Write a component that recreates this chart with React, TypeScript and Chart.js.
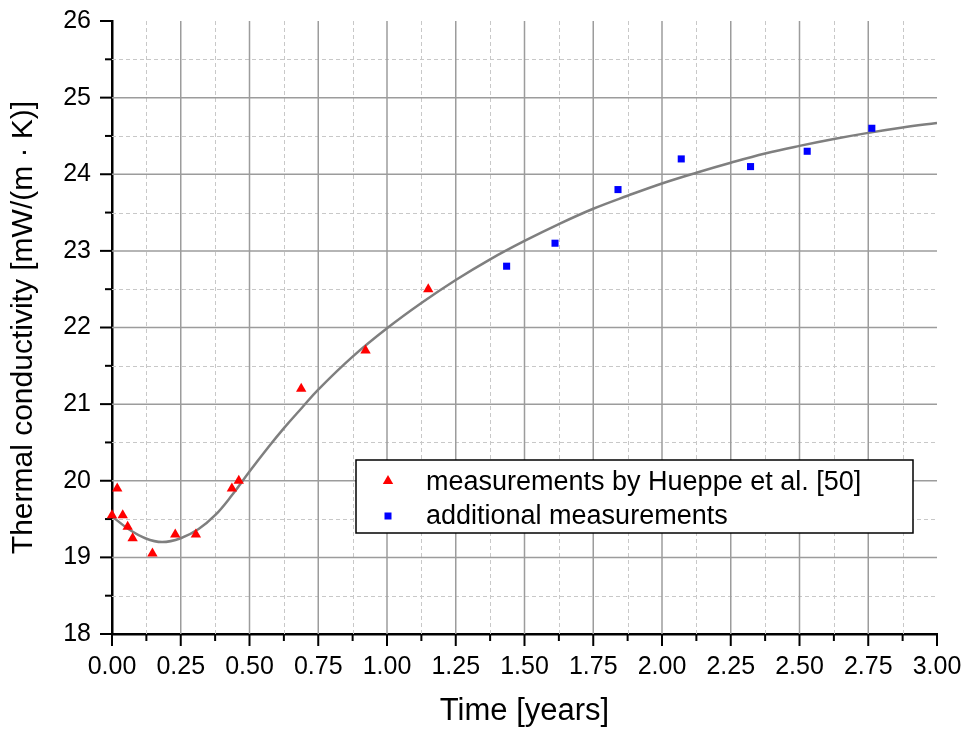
import React, { useEffect, useRef } from 'react';
import { Chart, registerables } from 'chart.js';

Chart.register(...registerables);

// ---- data ----
const hueppeTime = [0.0, 0.019, 0.039, 0.057, 0.075, 0.147, 0.23, 0.305, 0.436, 0.461, 0.688, 0.922, 1.15];
const hueppeK = [19.55, 19.9, 19.55, 19.4, 19.25, 19.05, 19.3, 19.3, 19.9, 20.0, 21.2, 21.7, 22.5];

const addTime = [1.435, 1.611, 1.84, 2.07, 2.322, 2.528, 2.763];
const addK = [22.8, 23.1, 23.8, 24.2, 24.1, 24.3, 24.6];

const fitTime = [0, 0.06, 0.121, 0.182, 0.25, 0.315, 0.375, 0.436, 0.5, 0.569, 0.626, 0.69, 0.75, 0.875, 1.0, 1.125, 1.25, 1.375, 1.5, 1.625, 1.75, 1.875, 2.0, 2.125, 2.25, 2.375, 2.5, 2.625, 2.75, 2.875, 3.0];
const fitK = [19.535, 19.37, 19.25, 19.2, 19.25, 19.37, 19.55, 19.81, 20.12, 20.44, 20.69, 20.95, 21.19, 21.62, 21.99, 22.32, 22.62, 22.89, 23.13, 23.35, 23.55, 23.72, 23.88, 24.02, 24.15, 24.27, 24.37, 24.46, 24.54, 24.61, 24.67];

const xMajorTicks = [0, 0.25, 0.5, 0.75, 1.0, 1.25, 1.5, 1.75, 2.0, 2.25, 2.5, 2.75, 3.0];
const xMinorTicks = [0.125, 0.375, 0.625, 0.875, 1.125, 1.375, 1.625, 1.875, 2.125, 2.375, 2.625, 2.875];
const yMajorTicks = [18, 19, 20, 21, 22, 23, 24, 25, 26];
const yMinorTicks = [18.5, 19.5, 20.5, 21.5, 22.5, 23.5, 24.5, 25.5];

const legendLabels = ['measurements by Hueppe et al. [50]', 'additional measurements'];
const xTitle = 'Time [years]';
const yTitle = 'Thermal conductivity [mW/(m · K)]';

const FONT = '"Liberation Sans", Arial, Helvetica, sans-serif';

const zeroPad = (scale: any) => {
  scale.paddingLeft = 0;
  scale.paddingRight = 0;
  scale.paddingTop = 0;
  scale.paddingBottom = 0;
};

const gridPlugin = {
  id: 'originGrid',
  beforeDatasetsDraw(chart: any) {
    const { ctx, chartArea: a, scales } = chart;
    const x = scales.x;
    const y = scales.y;
    const line = (x1: number, y1: number, x2: number, y2: number) => {
      ctx.beginPath();
      ctx.moveTo(x1, y1);
      ctx.lineTo(x2, y2);
      ctx.stroke();
    };
    ctx.save();
    // minor dashed grid
    ctx.lineWidth = 1;
    ctx.strokeStyle = '#c8c8c8';
    ctx.setLineDash([4, 3]);
    xMinorTicks.forEach((v) => {
      const p = Math.round(x.getPixelForValue(v)) + 0.5;
      line(p, a.top, p, a.bottom);
    });
    yMinorTicks.forEach((v) => {
      const p = Math.round(y.getPixelForValue(v)) + 0.5;
      line(a.left, p, a.right, p);
    });
    // major solid grid
    ctx.setLineDash([]);
    ctx.lineWidth = 1.5;
    ctx.strokeStyle = '#9c9c9c';
    xMajorTicks.slice(1, -1).forEach((v) => {
      const p = x.getPixelForValue(v);
      line(p, a.top, p, a.bottom);
    });
    yMajorTicks.slice(1, -1).forEach((v) => {
      const p = y.getPixelForValue(v);
      line(a.left, p, a.right, p);
    });
    // outward ticks
    ctx.strokeStyle = '#000';
    ctx.lineWidth = 2;
    xMajorTicks.forEach((v) => {
      const p = x.getPixelForValue(v);
      line(p, a.bottom, p, a.bottom + 12);
    });
    xMinorTicks.forEach((v) => {
      const p = x.getPixelForValue(v);
      line(p, a.bottom, p, a.bottom + 7);
    });
    yMajorTicks.forEach((v) => {
      const p = y.getPixelForValue(v);
      line(a.left - 12, p, a.left, p);
    });
    yMinorTicks.forEach((v) => {
      const p = y.getPixelForValue(v);
      line(a.left - 7, p, a.left, p);
    });
    ctx.restore();
  },
  afterDraw(chart: any) {
    const { ctx } = chart;
    ctx.save();
    const bx = 356, by = 460, bw = 557, bh = 73;
    ctx.fillStyle = '#ffffff';
    ctx.fillRect(bx, by, bw, bh);
    ctx.strokeStyle = '#000';
    ctx.lineWidth = 1.5;
    ctx.strokeRect(bx, by, bw, bh);
    // triangle marker
    const r = 6;
    const tx = 388, ty = 481;
    ctx.fillStyle = '#ff0000';
    ctx.beginPath();
    for (let k = 0; k < 3; k++) {
      const ang = (k * 2 * Math.PI) / 3;
      const px = tx + Math.sin(ang) * r;
      const py = ty - Math.cos(ang) * r;
      if (k === 0) ctx.moveTo(px, py);
      else ctx.lineTo(px, py);
    }
    ctx.closePath();
    ctx.fill();
    // square marker
    ctx.fillStyle = '#0000ff';
    ctx.fillRect(384.5, 512.5, 7, 7);
    // texts
    ctx.fillStyle = '#000';
    ctx.font = `27px ${FONT}`;
    ctx.textBaseline = 'middle';
    ctx.textAlign = 'left';
    ctx.fillText(legendLabels[0], 426, 483);
    ctx.fillText(legendLabels[1], 426, 517);
    ctx.restore();
  },
};

export default function App() {
  const canvasRef = useRef<HTMLCanvasElement | null>(null);

  useEffect(() => {
    if (!canvasRef.current) return;
    const chart = new Chart(canvasRef.current, {
      type: 'scatter',
      data: {
        datasets: [
          {
            type: 'line',
            label: 'fit',
            data: fitTime.map((t, i) => ({ x: t, y: fitK[i] })),
            borderColor: '#7f7f7f',
            borderWidth: 2.5,
            pointRadius: 0,
            fill: false,
            tension: 0.4,
            order: 2,
          } as any,
          {
            label: legendLabels[0],
            data: hueppeTime.map((t, i) => ({ x: t, y: hueppeK[i] })),
            pointStyle: 'triangle',
            pointRadius: 6,
            backgroundColor: '#ff0000',
            borderColor: '#ff0000',
            borderWidth: 0,
            clip: false,
            order: 1,
          } as any,
          {
            label: legendLabels[1],
            data: addTime.map((t, i) => ({ x: t, y: addK[i] })),
            pointStyle: 'rect',
            pointRadius: 5,
            backgroundColor: '#0000ff',
            borderColor: '#0000ff',
            borderWidth: 0,
            clip: false,
            order: 1,
          } as any,
        ],
      },
      options: {
        animation: false,
        responsive: false,
        devicePixelRatio: 1,
        layout: { padding: { left: 0, right: 28, top: 21, bottom: 0 } },
        plugins: {
          legend: { display: false },
          tooltip: { enabled: false },
        },
        scales: {
          x: {
            type: 'linear',
            min: 0,
            max: 3,
            afterBuildTicks: (scale: any) => {
              scale.ticks = xMajorTicks.map((v) => ({ value: v }));
            },
            afterFit: (scale: any) => {
              scale.height = 97;
              zeroPad(scale);
            },
            grid: { display: false, drawTicks: false },
            border: { display: true, color: '#000', width: 2.5 },
            ticks: {
              color: '#000',
              padding: 18,
              maxRotation: 0,
              autoSkip: false,
              font: { family: FONT, size: 25 },
              callback: (v: any) => Number(v).toFixed(2),
            },
            title: {
              display: true,
              text: xTitle,
              color: '#000',
              font: { family: FONT, size: 31, lineHeight: 1.2 },
              padding: { top: 0, bottom: 1 },
            },
          },
          y: {
            type: 'linear',
            min: 18,
            max: 26,
            afterBuildTicks: (scale: any) => {
              scale.ticks = yMajorTicks.map((v) => ({ value: v }));
            },
            afterFit: (scale: any) => {
              scale.width = 112;
              zeroPad(scale);
            },
            grid: { display: false, drawTicks: false },
            border: { display: true, color: '#000', width: 2.5 },
            ticks: {
              color: '#000',
              padding: 21,
              autoSkip: false,
              font: { family: FONT, size: 25 },
              callback: (v: any) => String(v),
            },
            title: {
              display: true,
              text: yTitle,
              color: '#000',
              font: { family: FONT, size: 30, lineHeight: 1.2 },
              padding: { top: 6, bottom: 0 },
            },
          },
        },
      } as any,
      plugins: [gridPlugin],
    });
    return () => chart.destroy();
  }, []);

  return (
    <div style={{ position: 'fixed', left: 0, top: 0, width: 965, height: 731, background: '#fff' }}>
      <canvas ref={canvasRef} width={965} height={731} style={{ display: 'block', width: 965, height: 731 }} />
    </div>
  );
}
